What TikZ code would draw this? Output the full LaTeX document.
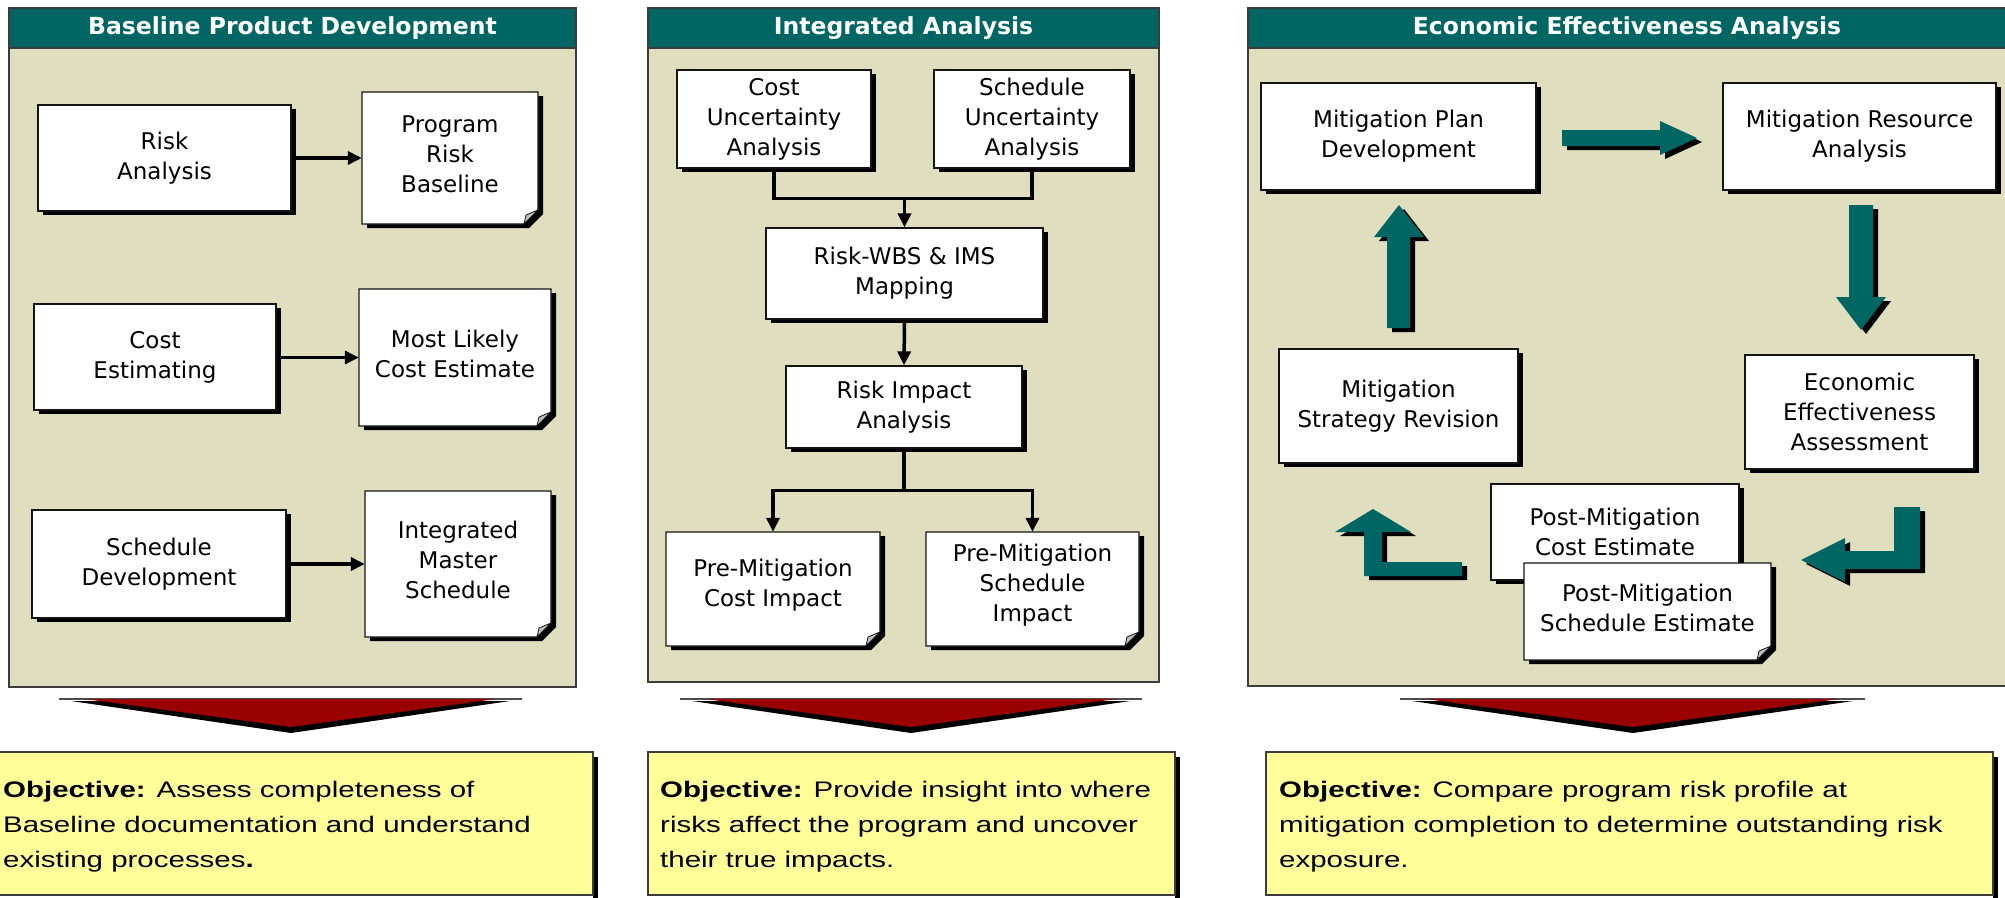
\documentclass[tikz,border=0pt]{standalone}
\usepackage{fontspec}
\setmainfont{DejaVu Sans}
\newfontfamily\objfont[FakeStretch=1.31]{Liberation Sans}
\usetikzlibrary{arrows.meta}

\definecolor{hdrteal}{RGB}{0,102,100}
\definecolor{panelfill}{RGB}{223,223,191}
\definecolor{panelline}{RGB}{60,60,60}
\definecolor{boxline}{RGB}{20,20,20}
\definecolor{foldgray}{RGB}{190,190,190}
\definecolor{objyellow}{RGB}{255,255,153}
\definecolor{chevred}{RGB}{153,0,0}

% panel with teal title bar: name, x1, y1, x2, y2, title
\newcommand\panelbox[6]{%
  \filldraw[draw=panelline, line width=1.5pt, fill=panelfill] (#2,#3) rectangle (#4,#5);
  \filldraw[draw=panelline, line width=1.5pt, fill=hdrteal] (#2,#3) rectangle (#4,48);
  \node[hdrtxt] (#1) at ({(#2+#4)/2},28) {#6};}

% process box with drop shadow: name, x1, y1, x2, y2, text
\newcommand\procbox[6]{%
  \fill[black] ({#2+5},{#3+4}) rectangle ({#4+5},{#5+4});
  \node[draw=boxline, line width=1.3pt, fill=white, inner sep=0pt, boxtxt,
        minimum width={#4-#2}, minimum height={#5-#3}]
        (#1) at ({(#2+#4)/2},{(#3+#5)/2}) {#6};}

% document box with folded corner: name, x1, y1, x2, y2, text
\newcommand\docbox[6]{%
  \fill[black] ({#2+5},{#3+4}) -- ({#4+5},{#3+4}) -- ({#4+5},{#5+4-14})
     -- ({#4+5-14},{#5+4}) -- ({#2+5},{#5+4}) -- cycle;
  \filldraw[draw=boxline, line width=1.3pt, fill=white] (#2,#3) -- (#4,#3)
     -- (#4,{#5-14}) -- ({#4-14},#5) -- (#2,#5) -- cycle;
  \filldraw[draw=boxline, line width=0.8pt, fill=foldgray] (#4,{#5-14})
     -- ({#4-14},#5) -- ({#4-12},{#5-9}) -- cycle;
  \node[inner sep=0pt, minimum width={#4-#2}, minimum height={#5-#3}]
     (#1) at ({(#2+#4)/2},{(#3+#5)/2}) {};
  \node[boxtxt, inner sep=0pt] (#1t) at ({(#2+#4)/2},{(#3+#5)/2-4}) {#6};}

% teal block arrow with black shadow
\newcommand\tealarrow[1]{%
  \fill[black, xshift=5pt, yshift=-4pt] #1;
  \fill[hdrteal] #1;}

% flat red chevron: left end, right end, tip x
\newcommand\chevron[3]{%
  \draw[line width=1.2pt, draw=black!70] (#1,699) -- (#2,699);
  \fill[black] ({#1+12},701) -- ({#2-12},701) -- (#3,733) -- cycle;
  \fill[chevred] ({#1+26},699) -- ({#2-26},699) -- (#3,727) -- cycle;}

% objective note: name, x1, x2, text x, text
\newcommand\objective[5]{%
  \fill[black] (#3,757) rectangle ({#3+5},900);
  \node[draw=panelline, line width=1.3pt, fill=objyellow, inner sep=0pt,
        minimum width={#3-#2}, minimum height=143]
        (#1) at ({(#2+#3)/2},823.5) {};
  \node[objtxt, anchor=north west] (#1t) at (#4,781) {#5};}

\begin{document}
\begin{tikzpicture}[x=1pt, y=-1pt,
  hdrtxt/.style={font=\fontsize{23.5}{28}\selectfont\bfseries, text=white, inner sep=0pt},
  boxtxt/.style={font=\fontsize{23}{30}\selectfont, align=center, text=black},
  objtxt/.style={font=\objfont\fontsize{22.5}{35}\selectfont, align=left, inner sep=0pt, text=black},
  link/.style={line width=3.5pt, draw=black},
  conn/.style={link, -{Triangle[length=14pt,width=13pt]}},
]
\useasboundingbox (0,0) rectangle (2005,897);
\fill[white] (0,0) rectangle (2005,897);

% ---------------- Baseline Product Development ----------------
\panelbox{h1}{9}{8}{576}{687}{Baseline Product Development}
\procbox{ra}{38}{105}{291}{211}{Risk\\Analysis}
\docbox{prb}{362}{92}{538}{224}{Program\\Risk\\Baseline}
\procbox{ce}{34}{304}{276}{410}{Cost\\Estimating}
\docbox{mlce}{359}{289}{551}{426}{Most Likely\\Cost Estimate}
\procbox{sd}{32}{510}{286}{618}{Schedule\\Development}
\docbox{ims}{365}{491}{551}{637}{Integrated\\Master\\Schedule}
\draw[conn] (ra.east |- prb.west) -- (prb.west);
\draw[conn] (ce.east |- mlce.west) -- (mlce.west);
\draw[conn] (sd.east |- ims.west) -- (ims.west);

% ---------------- Integrated Analysis ----------------
\panelbox{h2}{648}{8}{1159}{682}{Integrated Analysis}
\procbox{cua}{677}{70}{871}{168}{Cost\\Uncertainty\\Analysis}
\procbox{sua}{934}{70}{1130}{168}{Schedule\\Uncertainty\\Analysis}
\procbox{rwbs}{766}{228}{1043}{319}{Risk-WBS \& IMS\\Mapping}
\procbox{ria}{786}{366}{1022}{448}{Risk Impact\\Analysis}
\docbox{pmci}{666}{532}{880}{646}{Pre-Mitigation\\Cost Impact}
\docbox{pmsi}{926}{532}{1139}{646}{Pre-Mitigation\\Schedule\\Impact}
\draw[link, line join=miter] (cua.south) -- ++(0,30) coordinate (j1) -| (sua.south);
\draw[conn] (j1 -| rwbs.north) -- (rwbs.north);
\draw[conn] (rwbs.south) -- (ria.north);
\draw[link] (ria.south) -- ++(0,42) coordinate (j2);
\draw[conn, line join=miter] (j2) -| (pmci.north);
\draw[conn, line join=miter] (j2) -| (pmsi.north);

% ---------------- Economic Effectiveness Analysis ----------------
\panelbox{h3}{1248}{8}{2006}{686}{Economic Effectiveness Analysis}
\procbox{mpd}{1261}{83}{1536}{190}{Mitigation Plan\\Development}
\procbox{mra}{1723}{83}{1996}{190}{Mitigation Resource\\Analysis}
\procbox{eea}{1745}{355}{1974}{469}{Economic\\Effectiveness\\Assessment}
\procbox{msr}{1279}{349}{1518}{463}{Mitigation\\Strategy Revision}
\procbox{pmce}{1491}{484}{1739}{580}{Post-Mitigation\\Cost Estimate}
\docbox{pmse}{1524}{563}{1771}{660}{Post-Mitigation\\Schedule Estimate}

% cycle of block arrows
\tealarrow{(1562,130) -- (1660,130) -- (1660,121) -- (1697,138) -- (1660,155) -- (1660,146) -- (1562,146) -- cycle}
\tealarrow{(1849,205) -- (1873,205) -- (1873,297) -- (1886,297) -- (1861,330) -- (1836,297) -- (1849,297) -- cycle}
\tealarrow{(1894,507) -- (1920,507) -- (1920,569) -- (1845,569) -- (1845,582) -- (1801,560) -- (1845,538) -- (1845,551) -- (1894,551) -- cycle}
\tealarrow{(1462,562) -- (1462,576) -- (1364,576) -- (1364,532) -- (1335,532) -- (1373,509) -- (1411,532) -- (1382,532) -- (1382,562) -- cycle}
\tealarrow{(1387,328) -- (1410,328) -- (1410,237) -- (1424,237) -- (1399,205) -- (1374,237) -- (1387,237) -- cycle}

% ---------------- chevrons and objectives ----------------
\chevron{59}{522}{291}
\chevron{680}{1142}{911}
\chevron{1400}{1865}{1633}

\objective{o1}{-3}{593}{3}{\textbf{Objective:} Assess completeness of\\Baseline documentation and understand\\existing processes\textbf{.}}
\objective{o2}{648}{1175}{660}{\textbf{Objective:} Provide insight into where\\risks affect the program and uncover\\their true impacts.}
\objective{o3}{1266}{1993}{1279}{\textbf{Objective:} Compare program risk profile at\\mitigation completion to determine outstanding risk\\exposure.}
\end{tikzpicture}
\end{document}
